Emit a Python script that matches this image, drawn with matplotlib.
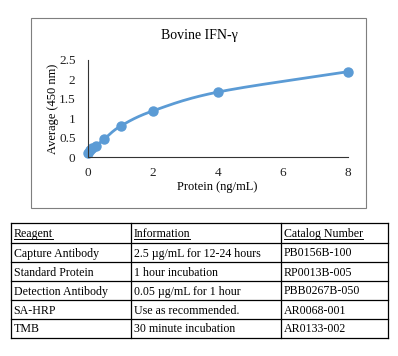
import matplotlib
matplotlib.use("Agg")
import matplotlib.pyplot as plt
import numpy as np

plt.rcParams['font.family'] = ['Liberation Serif', 'DejaVu Serif']

protein = [0, 0.0625, 0.125, 0.25, 0.5, 1, 2, 4, 8]
average = [0.12, 0.19, 0.24, 0.30, 0.47, 0.80, 1.19, 1.67, 2.19]

headers = ["Reagent", "Information", "Catalog Number"]
reagents = ["Capture Antibody", "Standard Protein", "Detection Antibody", "SA-HRP", "TMB"]
info = ["2.5 \u00b5g/mL for 12-24 hours", "1 hour incubation", "0.05 \u00b5g/mL for 1 hour",
        "Use as recommended.", "30 minute incubation"]
catalog = ["PB0156B-100", "RP0013B-005", "PBB0267B-050", "AR0068-001", "AR0133-002"]

blue = "#5B9BD5"


def smooth(xs, ys, n=30):
    # catmull-rom through the points, like Excel's smoothed line
    x = np.asarray(xs, float)
    y = np.asarray(ys, float)
    px = np.concatenate([[2 * x[0] - x[1]], x, [2 * x[-1] - x[-2]]])
    py = np.concatenate([[2 * y[0] - y[1]], y, [2 * y[-1] - y[-2]]])
    ox, oy = [], []
    t = np.linspace(0, 1, n)
    for i in range(1, len(px) - 2):
        for p, o in ((px, ox), (py, oy)):
            p0, p1, p2, p3 = p[i - 1], p[i], p[i + 1], p[i + 2]
            o.extend(0.5 * (2 * p1 + (-p0 + p2) * t + (2 * p0 - 5 * p1 + 4 * p2 - p3) * t ** 2
                            + (-p0 + 3 * p1 - 3 * p2 + p3) * t ** 3))
    return ox, oy


fig = plt.figure(figsize=(3.98, 3.56), dpi=100)

# overlay in pixel coordinates for the frame and the table
bg = fig.add_axes([0, 0, 1, 1])
bg.set_xlim(0, 398)
bg.set_ylim(356, 0)
bg.axis("off")
bg.add_patch(plt.Rectangle((30.5, 17.5), 335, 190, fill=False, edgecolor="#7f7f7f", lw=0.8))

ax = fig.add_axes([88 / 398, 1 - 157.5 / 356, 260 / 398, 98 / 356])
sx, sy = smooth(protein, average)
ax.plot(sx, sy, color=blue, lw=2, clip_on=False)
ax.plot(protein, average, "o", color=blue, ms=6.5, clip_on=False)
ax.set_xlim(0, 8)
ax.set_ylim(0, 2.5)
ax.set_xticks([0, 2, 4, 6, 8])
ax.set_yticks([0, 0.5, 1, 1.5, 2, 2.5])
ax.set_yticklabels(["0", "0.5", "1", "1.5", "2", "2.5"])
ax.tick_params(length=0, labelsize=9.5, colors="#222222")
ax.tick_params(axis="y", pad=9)
ax.tick_params(axis="x", pad=7)
for s in ["top", "right"]:
    ax.spines[s].set_visible(False)
for s in ["left", "bottom"]:
    ax.spines[s].set_color("#333333")
    ax.spines[s].set_linewidth(0.8)
ax.patch.set_visible(False)

bg.text(199, 35, "Bovine IFN-\u03b3", ha="center", va="center", fontsize=10)
bg.text(53, 109, "Average (450 nm)", ha="center", va="center", rotation=90, fontsize=9)
bg.text(217, 187, "Protein (ng/mL)", ha="center", va="center", fontsize=9)

# table
col_x = [11, 131, 281, 388]
row_y = [223, 243, 262, 281, 300, 319, 338]
for xv in col_x:
    bg.plot([xv, xv], [row_y[0], row_y[-1]], color="black", lw=0.9)
for yv in row_y:
    bg.plot([col_x[0], col_x[-1]], [yv, yv], color="black", lw=0.9)

rows = [headers] + [list(r) for r in zip(reagents, info, catalog)]
head_texts = []
for i, row in enumerate(rows):
    base = (row_y[i] + row_y[i + 1]) / 2 + 4
    for j, val in enumerate(row):
        t = bg.text(col_x[j] + 2.5, base, val, ha="left", va="baseline", fontsize=8.6)
        if i == 0:
            head_texts.append((t, base))

fig.canvas.draw()
r = fig.canvas.get_renderer()
inv = bg.transData.inverted()
for t, base in head_texts:
    bb = t.get_window_extent(r)
    (x0, _), (x1, _) = inv.transform([(bb.x0, bb.y0), (bb.x1, bb.y1)])
    bg.plot([x0, x1], [base + 1.5, base + 1.5], color="black", lw=0.7)

fig.savefig("out.png", dpi=100)
